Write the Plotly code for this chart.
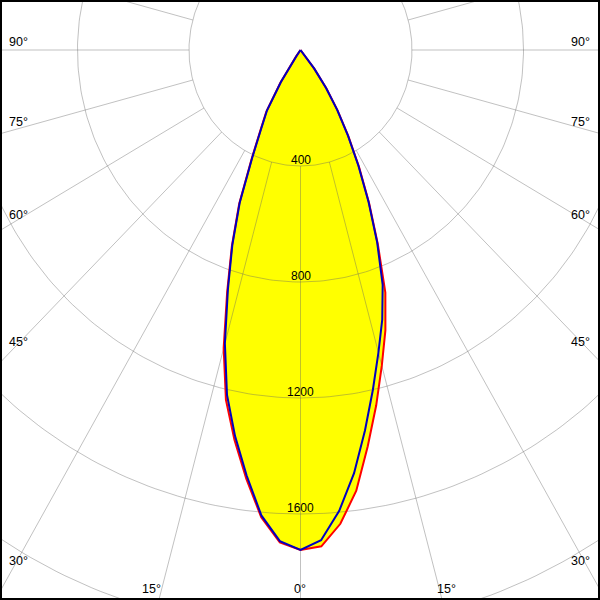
import numpy as np
import plotly.graph_objects as go

# Gamma angles (degrees from nadir)
gamma = [0, 2.5, 5, 7.5, 10, 12.5, 15, 17.5, 20, 22.5, 25, 27.5, 30, 32.5, 35, 37.5, 40, 42.5, 45,
         50, 55, 60, 65, 70, 75, 80, 85, 90]

# Luminous intensity (cd) per C-plane
c0 = [1724, 1713, 1640, 1533, 1388, 1255, 1127, 1013, 890, 725, 582, 455, 343, 248, 163, 82, 22, 0, 0,
      0, 0, 0, 0, 0, 0, 0, 0, 0]
c180 = [1724, 1700, 1617, 1491, 1365, 1236, 1065, 875, 720, 575, 415, 310, 245, 135, 28, 0, 0, 0, 0,
        0, 0, 0, 0, 0, 0, 0, 0, 0]
c90 = [1724, 1692, 1595, 1472, 1332, 1200, 1080, 975, 862, 719, 578, 450, 340, 245, 160, 80, 20, 0, 0,
       0, 0, 0, 0, 0, 0, 0, 0, 0]
c270 = [1724, 1695, 1611, 1480, 1352, 1218, 1048, 866, 715, 570, 410, 305, 240, 130, 25, 0, 0, 0, 0,
        0, 0, 0, 0, 0, 0, 0, 0, 0]

grid_radii = [400, 800, 1200, 1600, 2000]
radial_labels = ["400", "800", "1200", "1600"]
spoke_step = 15
angle_labels = ["90°", "75°", "60°", "45°", "30°", "15°", "0°", "15°", "30°", "45°", "60°", "75°", "90°"]


def to_xy(theta_deg, r):
    t = np.radians(np.asarray(theta_deg, dtype=float))
    r = np.asarray(r, dtype=float)
    return r * np.sin(t), -r * np.cos(t)


def plane_curve(left, right):
    g = np.asarray(gamma, dtype=float)
    theta = np.concatenate([-g[::-1], g[1:]])
    inten = np.concatenate([np.asarray(left)[::-1], np.asarray(right)[1:]])
    return to_xy(theta, inten)


red_x, red_y = plane_curve(c180, c0)
blue_x, blue_y = plane_curve(c270, c90)

fig = go.Figure()

# Yellow fill
for xx, yy in [(red_x, red_y), (blue_x, blue_y)]:
    fig.add_trace(go.Scatter(x=xx, y=yy, mode="lines", fill="toself", fillcolor="#ffff00",
                             line=dict(width=0, color="#ffff00"), hoverinfo="skip", showlegend=False))

# Grid circles
gx, gy = [], []
th = np.arange(0, 361, 1.0)
for r in grid_radii:
    x, y = to_xy(th, np.full_like(th, r))
    gx += list(x) + [None]
    gy += list(y) + [None]
# Spokes from first circle outward
for a in range(0, 360, spoke_step):
    x, y = to_xy([a, a], [grid_radii[0], 4000])
    gx += list(x) + [None]
    gy += list(y) + [None]
fig.add_trace(go.Scatter(x=gx, y=gy, mode="lines", line=dict(color="rgba(100,100,100,0.4)", width=1),
                         hoverinfo="skip", showlegend=False))

# Curves
fig.add_trace(go.Scatter(x=red_x, y=red_y, mode="lines", line=dict(color="#ff0000", width=2),
                         hoverinfo="skip", showlegend=False))
fig.add_trace(go.Scatter(x=blue_x, y=blue_y, mode="lines", line=dict(color="#0000c0", width=2),
                         hoverinfo="skip", showlegend=False))

font = dict(family="Liberation Sans, Arial, sans-serif", size=12, color="black")
annotations = []
for r, lab in zip(grid_radii, radial_labels):
    annotations.append(dict(x=0, y=-r, xref="x", yref="y", text=lab, showarrow=False,
                            xanchor="center", yanchor="middle", yshift=6, font=font))

# Angle labels (pixel positions in the 600x600 frame)
lab_px = [(18, 42), (18, 121.5), (18, 215), (18, 342), (18, 560.5), (151.7, 588.5), (300, 588.5),
          (446.7, 588.5), (580.5, 560.5), (580.5, 342), (580.5, 215), (580.5, 121.5), (580.5, 42)]
font2 = dict(family="Liberation Sans, Arial, sans-serif", size=12.5, color="black")
for (px, py), lab in zip(lab_px, angle_labels):
    annotations.append(dict(x=px / 600, y=1 - py / 600, xref="paper", yref="paper", text=lab,
                            showarrow=False, xanchor="center", yanchor="middle", font=font2))

sx = 111.5 / 400
sy = 116.0 / 400
cx, cy = 300.5, 50.0

fig.update_layout(
    width=600, height=600,
    margin=dict(l=0, r=0, t=0, b=0),
    paper_bgcolor="white", plot_bgcolor="white",
    xaxis=dict(range=[-cx / sx, (600 - cx) / sx], visible=False, showgrid=False, zeroline=False,
               fixedrange=True),
    yaxis=dict(range=[-(600 - cy) / sy, cy / sy], visible=False, showgrid=False, zeroline=False,
               fixedrange=True),
    annotations=annotations,
    shapes=[dict(type="rect", xref="paper", yref="paper", x0=0, y0=0, x1=1, y1=1,
                 line=dict(color="black", width=4), layer="above")],
    showlegend=False,
)

fig.write_html("out.html", config={"displayModeBar": False, "staticPlot": True},
               post_script="document.body.style.margin='0';document.body.style.overflow='hidden';")
